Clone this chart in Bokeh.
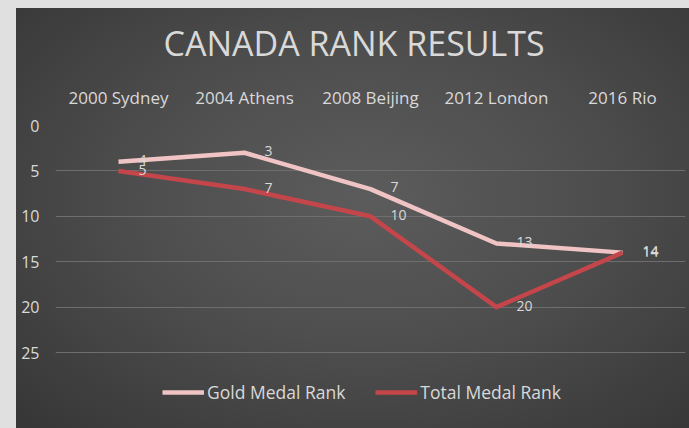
from bokeh.plotting import figure
from bokeh.models import FactorRange, Range1d, FixedTicker, Legend, LegendItem, ColumnDataSource
from bokeh.embed import file_html
from bokeh.resources import INLINE

games = ["2000 Sydney", "2004 Athens", "2008 Beijing", "2012 London", "2016 Rio"]
gold_rank = [4, 3, 7, 13, 14]
total_rank = [5, 7, 10, 20, 14]
y_ticks = [0, 5, 10, 15, 20, 25]

TXT = "#d9d9d9"
FONT = "Open Sans"
GOLD_C = "#f0c4c4"
TOTAL_C = "#c4464a"

# axis 0..25 spans 227 px; frame extended down to the page bottom to host the legend
FRAME_H = 303
Y_BOTTOM = 25 * FRAME_H / 227

p = figure(frame_width=630, frame_height=FRAME_H, output_backend="svg", toolbar_location=None,
           x_range=FactorRange(factors=games, range_padding=0),
           y_range=Range1d(start=Y_BOTTOM, end=0),
           x_axis_location="above",
           min_border_left=55, min_border_right=4, min_border_top=125, min_border_bottom=0,
           title="CANADA RANK RESULTS")

p.styles = {
    "background": "linear-gradient(#e0e0e0,#e0e0e0) 0 0 / 16px 100% no-repeat, "
                  "linear-gradient(#e0e0e0,#e0e0e0) 0 0 / 100% 8px no-repeat, "
                  "radial-gradient(ellipse at 52% 45%, #5c5c5c 0%, #4e4e4e 45%, #363636 100%) 16px 8px / 673px 420px no-repeat"
}
p.border_fill_alpha = 0
p.background_fill_alpha = 0
p.outline_line_color = None

p.title.text_color = TXT
p.title.text_font = FONT
p.title.text_font_size = "34px"
p.title.text_font_style = "normal"
p.title.align = "left"
p.title.offset = 108
p.title.standoff = 33

xa = p.xaxis[0]
xa.axis_line_color = None
xa.major_tick_line_color = None
xa.minor_tick_line_color = None
xa.major_label_text_color = TXT
xa.major_label_text_font = FONT
xa.major_label_text_font_size = "17px"
xa.major_label_standoff = 11

ya = p.yaxis[0]
ya.ticker = FixedTicker(ticks=y_ticks)
ya.axis_line_color = None
ya.major_tick_line_color = None
ya.minor_tick_line_color = None
ya.major_label_text_color = TXT
ya.major_label_text_font = FONT
ya.major_label_text_font_size = "16px"
ya.major_label_standoff = 10

p.xgrid.grid_line_color = None
p.ygrid.grid_line_color = "#6e6e6e"
p.ygrid.grid_line_width = 1
p.ygrid.ticker = FixedTicker(ticks=y_ticks)

src = ColumnDataSource(dict(g=games, gold=gold_rank, total=total_rank,
                            gl=[str(v) for v in gold_rank], tl=[str(v) for v in total_rank]))

r_gold = p.line("g", "gold", source=src, line_color=GOLD_C, line_width=4.5, line_join="round")
r_total = p.line("g", "total", source=src, line_color=TOTAL_C, line_width=4.5, line_join="round")

p.text("g", "gold", text="gl", source=src, x_offset=20, y_offset=-2,
       text_align="left", text_baseline="middle", text_color=TXT,
       text_font_size="14px", text_font={"value": FONT})
p.text("g", "total", text="tl", source=src, x_offset=20, y_offset=-1,
       text_align="left", text_baseline="middle", text_color=TXT,
       text_font_size="14px", text_font={"value": FONT})

legend = Legend(items=[LegendItem(label="Gold Medal Rank", renderers=[r_gold]),
                       LegendItem(label="Total Medal Rank", renderers=[r_total])],
                orientation="horizontal", location=(102, 19),
                background_fill_alpha=0, border_line_alpha=0,
                label_text_color=TXT, label_text_font=FONT, label_text_font_size="17.5px",
                glyph_width=42, glyph_height=20, label_height=20,
                label_standoff=3, spacing=30, padding=5, margin=0)
p.add_layout(legend, "center")

open("out.html", "w").write(file_html(p, INLINE))
